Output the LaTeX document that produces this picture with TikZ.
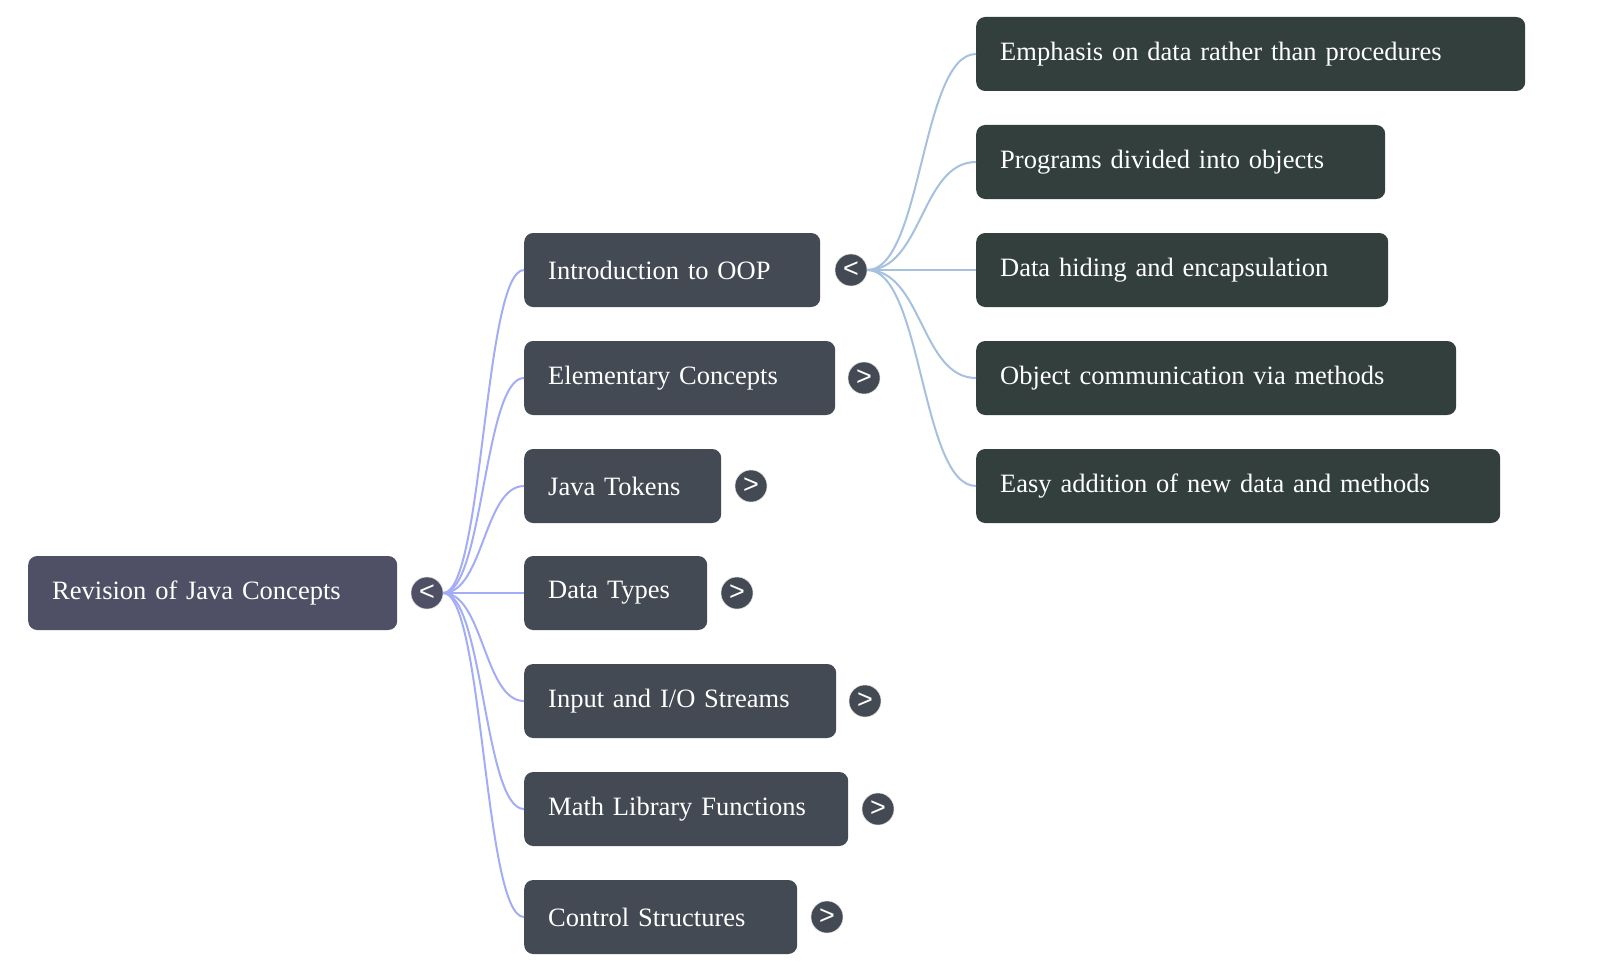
\documentclass[tikz,border=0pt]{standalone}
\usepackage{fontspec}
\setmainfont{Liberation Serif}
\newfontfamily\chevfont{Liberation Sans}

\definecolor{rootcol}{HTML}{4F5066}
\definecolor{topiccol}{HTML}{434A54}
\definecolor{leafcol}{HTML}{323F3C}
\definecolor{rootlinkcol}{HTML}{A3ACF7}
\definecolor{leaflinkcol}{HTML}{A6C0E0}

\begin{document}
\begin{tikzpicture}[x=1pt,y=-1pt,
		box/.style={rounded corners=9pt, text=white, minimum height=74pt, inner xsep=24pt, anchor=west, align=left, font=\fontsize{26.5}{30}\selectfont},
		rootbox/.style={box, fill=rootcol},
		topic/.style={box, fill=topiccol},
		leaf/.style={box, fill=leafcol},
		btn/.style={circle, fill=topiccol, draw=white!85!black, line width=0.5pt, minimum size=32pt, inner sep=0pt, text=white, font=\chevfont\fontsize{27}{27}\selectfont},
		rootlink/.style={draw=rootlinkcol, line width=2pt},
		leaflink/.style={draw=leaflinkcol, line width=2pt}]
		\useasboundingbox (0,0) rectangle (1600,971);
		% root
		\node[rootbox, text width=321pt] (root) at (28,593) {Revision of Java Concepts};
		\node[btn, fill=rootcol] (rootbtn) at (427,593) {<};
		% first level
		\node[topic, text width=248pt] (intro) at (524,270) {Introduction to OOP};
		\node[topic, text width=263pt] (elem) at (524,378) {Elementary Concepts};
		\node[topic, text width=149pt] (tokens) at (524,486) {Java Tokens};
		\node[topic, text width=135pt] (types) at (524,593) {Data Types};
		\node[topic, text width=264pt] (streams) at (524,701) {Input and I/O Streams};
		\node[topic, text width=276pt] (mathlib) at (524,809) {Math Library Functions};
		\node[topic, text width=225pt] (control) at (524,917) {Control Structures};
		\node[btn] (introbtn) at (851,270) {<};
		\node[btn] (elembtn) at (864,378) {>};
		\node[btn] (tokensbtn) at (751,486) {>};
		\node[btn] (typesbtn) at (737,593) {>};
		\node[btn] (streamsbtn) at (865,701) {>};
		\node[btn] (mathlibbtn) at (878,809) {>};
		\node[btn] (controlbtn) at (827,917) {>};
		% second level
		\node[leaf, text width=501pt] (emph) at (976,54) {Emphasis on data rather than procedures};
		\node[leaf, text width=361pt] (objects) at (976,162) {Programs divided into objects};
		\node[leaf, text width=364pt] (hiding) at (976,270) {Data hiding and encapsulation};
		\node[leaf, text width=432pt] (comm) at (976,378) {Object communication via methods};
		\node[leaf, text width=476pt] (easy) at (976,486) {Easy addition of new data and methods};
		% links
		\foreach \t in {intro,elem,tokens,types,streams,mathlib,control}
			\draw[rootlink] (rootbtn.east) .. controls +(40,0) and +(-40,0) .. (\t.west);
		\foreach \t in {emph,objects,hiding,comm,easy}
			\draw[leaflink] (introbtn.east) .. controls +(55,0) and +(-55,0) .. (\t.west);
	\end{tikzpicture}
\end{document}
